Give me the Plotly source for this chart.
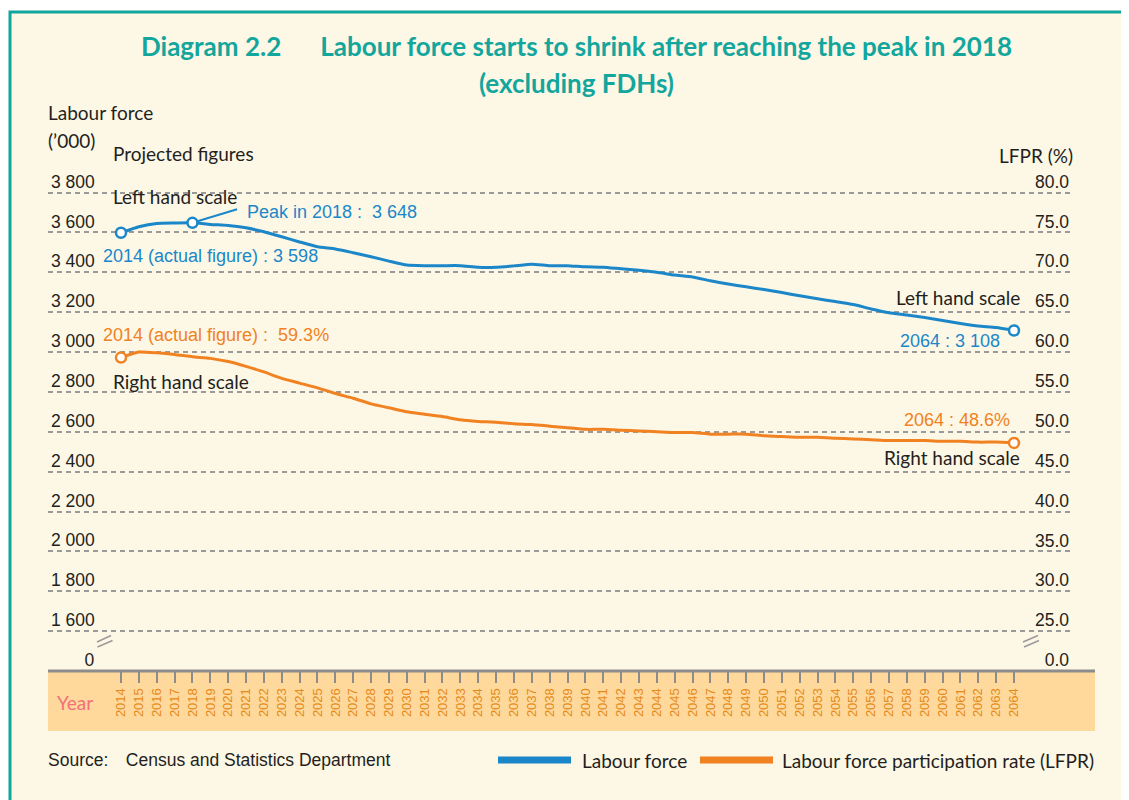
import plotly.graph_objects as go

# ---------------- data ----------------
years = list(range(2014, 2065))
labour_force = [3598, 3628, 3645, 3647, 3648, 3640, 3635, 3623, 3603, 3578,
                3552, 3528, 3517, 3498, 3478, 3456, 3436, 3433, 3433, 3433,
                3425, 3425, 3432, 3440, 3433, 3433, 3427, 3425, 3417, 3410,
                3400, 3386, 3376, 3357, 3341, 3327, 3313, 3298, 3282, 3267,
                3253, 3238, 3216, 3197, 3186, 3173, 3158, 3143, 3130, 3123,
                3108]
lfpr = [59.3, 60.0, 59.9, 59.7, 59.4, 59.2, 58.8, 58.2, 57.5, 56.7,
        56.1, 55.5, 54.8, 54.2, 53.5, 53.0, 52.5, 52.2, 51.9, 51.5,
        51.3, 51.2, 51.0, 50.9, 50.7, 50.5, 50.3, 50.3, 50.2, 50.1,
        50.0, 49.9, 49.9, 49.7, 49.7, 49.7, 49.5, 49.4, 49.3, 49.3,
        49.2, 49.1, 49.0, 48.9, 48.9, 48.9, 48.8, 48.8, 48.7, 48.7,
        48.6]
left_tickvals = [1400, 1600, 1800, 2000, 2200, 2400, 2600, 2800, 3000, 3200, 3400, 3600, 3800]
left_ticktext = ["\u2007\u2007\u2007\u20050", "1 600", "1 800", "2 000", "2 200", "2 400", "2 600",
                 "2 800", "3 000", "3 200", "3 400", "3 600", "3 800"]
right_tickvals = [20, 25, 30, 35, 40, 45, 50, 55, 60, 65, 70, 75, 80]
right_ticktext = ["0.0", "25.0", "30.0", "35.0", "40.0", "45.0", "50.0", "55.0",
                  "60.0", "65.0", "70.0", "75.0", "80.0"]
peak_idx = years.index(2018)

# ---------------- style ----------------
BLUE = "#1b87c9"
ORANGE = "#f18221"
TEAL = "#13a69d"
CREAM = "#fdf7e6"
BAND = "#fed99b"
GRAY = "#8c8c8c"
DARK = "#231f20"
NARROW = "Liberation Sans Narrow, Arial Narrow, Liberation Sans, sans-serif"
SANS = "Liberation Sans, Arial, sans-serif"
HUMAN = "Lato, Open Sans, sans-serif"

OFF = 8                      # page body margin
W, H = 1129 - OFF, 800 - OFF
L, R, T, B = 48, 1072, 166, 671   # plot area in screen pixels


def px(x):
    return (x - L) / (R - L)


def py(y):
    return (B - y) / (B - T)


fig = go.Figure()
fig.add_trace(go.Scatter(x=years, y=labour_force, mode="lines", name="Labour force",
                         line=dict(color=BLUE, width=3, shape="spline", smoothing=0.5),
                         yaxis="y", showlegend=False))
fig.add_trace(go.Scatter(x=years, y=lfpr, mode="lines", name="LFPR",
                         line=dict(color=ORANGE, width=3, shape="spline", smoothing=0.5),
                         yaxis="y2", showlegend=False))
fig.add_trace(go.Scatter(x=[years[0], years[peak_idx], years[-1]],
                         y=[labour_force[0], labour_force[peak_idx], labour_force[-1]],
                         mode="markers", yaxis="y", showlegend=False,
                         marker=dict(size=10, color="white", line=dict(color=BLUE, width=2.5))))
fig.add_trace(go.Scatter(x=[years[0], years[-1]], y=[lfpr[0], lfpr[-1]],
                         mode="markers", yaxis="y2", showlegend=False,
                         marker=dict(size=10, color="white", line=dict(color=ORANGE, width=2.5))))

shapes = []
# frame / background
shapes.append(dict(type="rect", xref="paper", yref="paper", x0=px(10), x1=px(1150),
                   y0=py(12), y1=py(820), fillcolor=CREAM, line=dict(color=TEAL, width=3),
                   layer="below"))
# year band
shapes.append(dict(type="rect", xref="paper", yref="paper", x0=0, x1=px(1095),
                   y0=py(672), y1=py(731), fillcolor=BAND, line=dict(width=0), layer="below"))
# x axis line
shapes.append(dict(type="line", xref="paper", yref="paper", x0=0, x1=px(1095),
                   y0=0, y1=0, line=dict(color=GRAY, width=3)))
# axis breaks
for (x0, y0, x1, y1) in [(97, 642, 111, 635.5), (97.5, 647, 112.5, 640.5),
                         (1023, 642, 1038, 635.5), (1024, 647, 1039, 640.5)]:
    shapes.append(dict(type="line", xref="paper", yref="paper", x0=px(x0), y0=py(y0),
                       x1=px(x1), y1=py(y1), line=dict(color="#9a9a9a", width=1.5)))
# leader line for peak
shapes.append(dict(type="line", xref="x", yref="y", x0=years[peak_idx], y0=labour_force[peak_idx],
                   x1=2020.5, y1=3716, line=dict(color=BLUE, width=2), layer="below"))
# legend swatches
shapes.append(dict(type="line", xref="paper", yref="paper", x0=px(498), x1=px(571),
                   y0=py(760), y1=py(760), line=dict(color=BLUE, width=7)))
shapes.append(dict(type="line", xref="paper", yref="paper", x0=px(700), x1=px(773),
                   y0=py(760), y1=py(760), line=dict(color=ORANGE, width=7)))

ann = []


def text(x, y, s, color=DARK, size=19, family=HUMAN, anchor="left", bold=False):
    ann.append(dict(xref="paper", yref="paper", x=px(x), y=py(y), text=("<b>%s</b>" % s) if bold else s,
                    showarrow=False, xanchor=anchor, yanchor="middle",
                    font=dict(color=color, size=size, family=family)))


text(576, 46, "Diagram 2.2\u2003\u2003Labour force starts to shrink after reaching the peak in 2018",
     color=TEAL, size=26, anchor="center", bold=True)
text(576, 83, "(excluding FDHs)", color=TEAL, size=26, anchor="center", bold=True)
text(46, 113, "Labour force")
text(46, 141, "(\u2019000)")
text(111, 153, "Projected figures")
text(1075, 155, "LFPR (%)", anchor="right")
text(111, 196, "Left hand scale")
text(245, 212, "Peak in 2018 :  3 648", color=BLUE, size=18, family=NARROW)
text(101, 256, "2014 (actual figure) : 3 598", color=BLUE, size=18, family=NARROW)
text(101, 335, "2014 (actual figure) :  59.3%", color=ORANGE, size=18, family=NARROW)
text(111, 381, "Right hand scale")
text(1022, 297, "Left hand scale", anchor="right")
text(1002, 341, "2064 : 3 108", color=BLUE, size=18, family=NARROW, anchor="right")
text(1012, 420, "2064 : 48.6%", color=ORANGE, size=18, family=NARROW, anchor="right")
text(1022, 457, "Right hand scale", anchor="right")
text(75, 702, "Year", color="#f2707a", size=19, anchor="center")
text(46, 760, "Source:\u2002\u2002Census and Statistics Department", size=17.5, family=NARROW)
text(580, 760, "Labour force")
text(780, 760, "Labour force participation rate (LFPR)")

ypx_per_unit = (B - 192.5) / 2400.0
y_top = 1400 + (B - T) / ypx_per_unit
xpx_per_year = (1014 - 121) / 50.0
x_left = 2014 - (121 - L) / xpx_per_year
x_right = 2064 + (R - 1014) / xpx_per_year

fig.update_layout(
    width=W, height=H, autosize=False,
    margin=dict(l=L - OFF, r=W - (R - OFF), t=T - OFF, b=H - (B - OFF), pad=0),
    paper_bgcolor="white", plot_bgcolor="rgba(0,0,0,0)",
    showlegend=False,
    shapes=shapes, annotations=ann,
    xaxis=dict(range=[x_left, x_right], tickvals=years, ticktext=[str(y) for y in years],
               tickangle=-90, ticks="outside", ticklen=11, tickwidth=2, tickcolor=GRAY,
               showgrid=False, zeroline=False, showline=False,
               tickfont=dict(color="#e58a1a", size=13, family=SANS)),
    yaxis=dict(range=[1400, y_top], tickvals=left_tickvals, ticktext=left_ticktext,
               ticklabelposition="inside", ticklabelshift=-11, ticks="",
               showgrid=True, gridcolor="#9a9a9a", gridwidth=1.5, griddash="5px,4px",
               zeroline=False, showline=False,
               tickfont=dict(color=DARK, size=17.5, family=SANS)),
    yaxis2=dict(range=[20, 20 + (y_top - 1400) / 40.0], tickvals=right_tickvals,
                ticktext=right_ticktext, overlaying="y", side="right",
                ticklabelposition="inside", ticklabelshift=-11, ticks="",
                showgrid=False, zeroline=False, showline=False,
                tickfont=dict(color=DARK, size=17.5, family=SANS)),
)

fig.write_html("out.html")
